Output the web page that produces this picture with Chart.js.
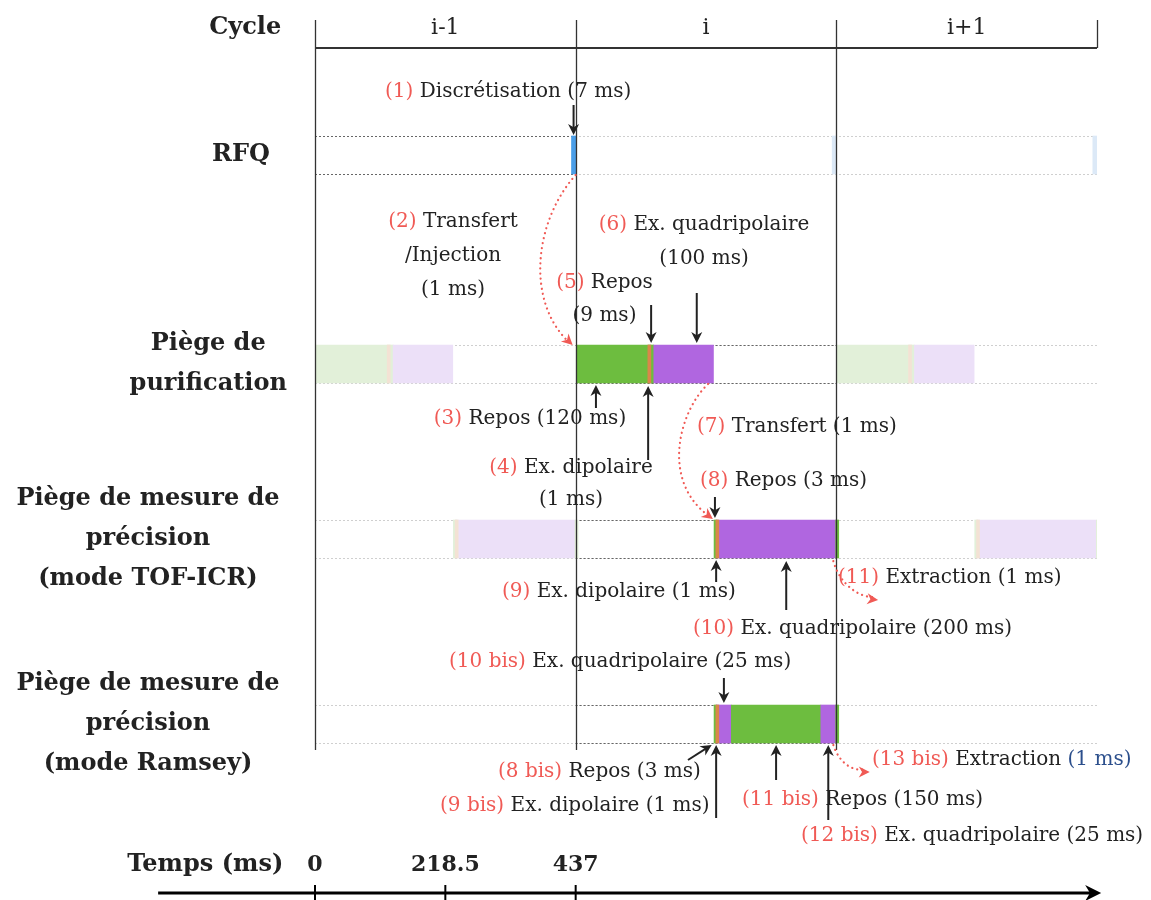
<!DOCTYPE html>
<html>
<head>
<meta charset="utf-8">
<script src="https://cdn.jsdelivr.net/npm/chart.js@4"></script>
<style>
body { margin: 0; background: #fff; }
</style>
</head>
<body>
<canvas id="myChart" width="1151" height="900"></canvas>
<script>
// cycles and time axis
var cycleNames = ["i-1", "i", "i+1"];
var cycleLength = 437;
var timeTicks = [0, 218.5, 437];
var timeTickLabels = ["0", "218.5", "437"];

var laneNames = [
    ["RFQ"],
    ["Piège de", "purification"],
    ["Piège de mesure de", "précision", "(mode TOF-ICR)"],
    ["Piège de mesure de", "précision", "(mode Ramsey)"]
];

// phases of each trap: start in the cycle (ms), kind, duration (ms), which cycles are drawn
var rfqStart = 430;
var rfqPhases = ["disc"];
var rfqDurations = [7];
var rfqCycles = ["solid", "faded", "faded"];

var purifStart = 1;
var purifPhases = ["repos", "dipole", "repos", "quad"];
var purifDurations = [120, 1, 9, 100];
var purifCycles = ["faded", "solid", "faded"];

var tofStart = 232;
var tofPhases = ["repos", "dipole", "quad", "extract"];
var tofDurations = [3, 1, 200, 1];
var tofCycles = ["faded", "solid", "faded"];

var ramseyStart = 232;
var ramseyPhases = ["repos", "dipole", "quad", "repos", "quad", "extract"];
var ramseyDurations = [3, 1, 25, 150, 25, 1];
var ramseyCycles = ["none", "solid", "none"];

// styles / layout
var colors = { disc: "#4a9ee8", repos: "#6dbd3f", dipole: "#d9874a", quad: "#b066e0", extract: "#6dbd3f" };
var fadedColors = { disc: "#dce9f7", repos: "#e2f0d9", dipole: "#f3e2d4", quad: "#ece0f8", extract: "#e2f0d9" };
var laneY = [1.07, 3.16, 4.91, 6.76];
var laneLabelT = [-124, -179, -280, -280];
var RED = "#f05a55", BLK = "#222", BLU = "#2c4f8c";
var FONT = "'DejaVu Serif', serif";

var bars = [], barColors = [], thinBars = [], thinColors = [];

function addLane(lane, start, phases, durations, cycles) {
    cycles.forEach(function(mode, c) {
        if (mode == "none") return;
        var t = c * cycleLength + start;
        phases.forEach(function(p, k) {
            var col = mode == "solid" ? colors[p] : fadedColors[p];
            var pt = { x: [t, t + durations[k]], y: laneY[lane] };
            // thin phases go on top
            if (durations[k] <= 1) { thinBars.push(pt); thinColors.push(col); } else { bars.push(pt); barColors.push(col); }
            t += durations[k];
        });
    });
}
addLane(0, rfqStart, rfqPhases, rfqDurations, rfqCycles);
addLane(1, purifStart, purifPhases, purifDurations, purifCycles);
addLane(2, tofStart, tofPhases, tofDurations, tofCycles);
addLane(3, ramseyStart, ramseyPhases, ramseyDurations, ramseyCycles);
bars = bars.concat(thinBars);
barColors = barColors.concat(thinColors);

var laneCycles = [rfqCycles, purifCycles, tofCycles, ramseyCycles];

// annotations: [t (ms), y, align, parts]
var notes = [
    [117.4, 0.44, "left", [["(1)", RED], [" Discrétisation (7 ms)", BLK]]],
    [231.4, 1.74, "center", [["(2)", RED], [" Transfert", BLK]]],
    [231.4, 2.08, "center", [["/Injection", BLK]]],
    [231.4, 2.42, "center", [["(1 ms)", BLK]]],
    [652.2, 1.77, "center", [["(6)", RED], [" Ex. quadripolaire", BLK]]],
    [652.2, 2.11, "center", [["(100 ms)", BLK]]],
    [485.3, 2.35, "center", [["(5)", RED], [" Repos", BLK]]],
    [485.3, 2.68, "center", [["(9 ms)", BLK]]],
    [360.4, 3.71, "center", [["(3)", RED], [" Repos (120 ms)", BLK]]],
    [429.2, 4.20, "center", [["(4)", RED], [" Ex. dipolaire", BLK]]],
    [429.2, 4.52, "center", [["(1 ms)", BLK]]],
    [640.4, 3.79, "left", [["(7)", RED], [" Transfert (1 ms)", BLK]]],
    [645.5, 4.33, "left", [["(8)", RED], [" Repos (3 ms)", BLK]]],
    [313.5, 5.44, "left", [["(9)", RED], [" Ex. dipolaire (1 ms)", BLK]]],
    [633.7, 5.81, "left", [["(10)", RED], [" Ex. quadripolaire (200 ms)", BLK]]],
    [876.8, 5.30, "left", [["(11)", RED], [" Extraction (1 ms)", BLK]]],
    [224.7, 6.14, "left", [["(10 bis)", RED], [" Ex. quadripolaire (25 ms)", BLK]]],
    [306.8, 7.24, "left", [["(8 bis)", RED], [" Repos (3 ms)", BLK]]],
    [209.6, 7.58, "left", [["(9 bis)", RED], [" Ex. dipolaire (1 ms)", BLK]]],
    [715.9, 7.52, "left", [["(11 bis)", RED], [" Repos (150 ms)", BLK]]],
    [814.8, 7.88, "left", [["(12 bis)", RED], [" Ex. quadripolaire (25 ms)", BLK]]],
    [933.8, 7.12, "left", [["(13 bis)", RED], [" Extraction ", BLK], ["(1 ms)", BLU]]]
];

// black arrows [t0, y0, t1, y1]
var arrows = [
    [433.5, 0.57, 433.5, 0.87],
    [640, 2.45, 640, 2.95],
    [563.5, 2.57, 563.5, 2.95],
    [471, 3.60, 471, 3.37],
    [558.5, 4.12, 558.5, 3.38],
    [670.5, 4.49, 670.5, 4.70],
    [672.5, 5.34, 672.5, 5.12],
    [790, 5.62, 790, 5.13],
    [685.5, 6.30, 685.5, 6.55],
    [625.3, 7.12, 665, 6.97],
    [672.5, 7.70, 672.5, 6.97],
    [773, 7.32, 773, 6.97],
    [860.5, 7.72, 860.5, 6.97]
];

// red dotted transfers (bezier)
var curves = [
    [[437, 1.27], [369, 1.72], [352, 2.52], [432, 2.97]],
    [[659, 3.36], [612, 3.62], [578, 4.32], [667, 4.71]],
    [[869, 5.13], [880, 5.37], [914, 5.50], [944, 5.52]],
    [[869, 6.97], [880, 7.17], [905, 7.24], [930, 7.24]]
];

function head(c, x, y, ang, size, color) {
    c.save();
    c.translate(x, y);
    c.rotate(ang);
    c.beginPath();
    c.moveTo(0, 0);
    c.lineTo(-size, -size * 0.5);
    c.lineTo(-size * 0.7, 0);
    c.lineTo(-size, size * 0.5);
    c.closePath();
    c.fillStyle = color;
    c.fill();
    c.restore();
}

function drawParts(c, x, y, parts, align) {
    var w = 0;
    parts.forEach(function(p) { w += c.measureText(p[0]).width; });
    var left = align == "center" ? x - w / 2 : (align == "right" ? x - w : x);
    parts.forEach(function(p) {
        c.fillStyle = p[1];
        c.textAlign = "left";
        c.fillText(p[0], left, y);
        left += c.measureText(p[0]).width;
    });
}

function dotted(c, x0, x1, y, color) {
    c.strokeStyle = color;
    c.lineWidth = 1;
    c.setLineDash([2, 2]);
    c.beginPath();
    c.moveTo(x0, y + 0.5);
    c.lineTo(x1, y + 0.5);
    c.stroke();
    c.setLineDash([]);
}

var bandsPlugin = {
    id: "bands",
    beforeDatasetsDraw: function(chart) {
        var c = chart.ctx, xs = chart.scales.x, ys = chart.scales.y;
        c.save();
        laneY.forEach(function(v, i) {
            [v - 0.19, v + 0.19].forEach(function(e) {
                var y = Math.round(ys.getPixelForValue(e));
                dotted(c, xs.getPixelForValue(0), xs.getPixelForValue(3 * cycleLength), y, "#cfcfcf");
                laneCycles[i].forEach(function(m, k) {
                    if (m == "solid") dotted(c, xs.getPixelForValue(k * cycleLength), xs.getPixelForValue((k + 1) * cycleLength), y, "#666");
                });
            });
        });
        c.restore();
    }
};

var notesPlugin = {
    id: "notes",
    afterDatasetsDraw: function(chart) {
        var c = chart.ctx, xs = chart.scales.x, ys = chart.scales.y;
        var X = function(t) { return xs.getPixelForValue(t); };
        var Y = function(v) { return ys.getPixelForValue(v); };
        c.save();

        // cycle header and boundaries
        c.strokeStyle = "#333";
        c.lineWidth = 2;
        c.beginPath();
        c.moveTo(X(0), Y(0));
        c.lineTo(X(3 * cycleLength), Y(0));
        c.stroke();
        c.lineWidth = 1.3;
        for (var k = 0; k <= 3; k++) {
            c.beginPath();
            c.moveTo(Math.round(X(k * cycleLength)) + 0.5, Y(-0.28));
            c.lineTo(Math.round(X(k * cycleLength)) + 0.5, Y(k < 3 ? 7.02 : 0));
            c.stroke();
        }
        c.textBaseline = "middle";
        c.font = "22px " + FONT;
        c.fillStyle = BLK;
        c.textAlign = "center";
        cycleNames.forEach(function(n, k) { c.fillText(n, X((k + 0.5) * cycleLength), Y(-0.2)); });

        // lane names
        c.font = "bold 24px " + FONT;
        c.fillText("Cycle", X(-117), Y(-0.2));
        laneNames.forEach(function(lines, i) {
            lines.forEach(function(s, j) {
                c.fillText(s, X(laneLabelT[i]), Y(laneY[i] + (j - (lines.length - 1) / 2) * 0.4));
            });
        });

        // time axis
        c.fillText("Temps (ms)", X(-184), Y(8.17));
        c.font = "bold 22px " + FONT;
        timeTicks.forEach(function(t, k) { c.fillText(timeTickLabels[k], X(t), Y(8.17)); });
        c.strokeStyle = "#000";
        c.lineWidth = 3;
        c.beginPath();
        c.moveTo(X(-263), Y(8.45));
        c.lineTo(X(1310), Y(8.45));
        c.stroke();
        head(c, X(1318), Y(8.45), 0, 16, "#000");
        c.lineWidth = 2;
        timeTicks.forEach(function(t) {
            c.beginPath();
            c.moveTo(X(t), Y(8.37));
            c.lineTo(X(t), Y(8.53));
            c.stroke();
        });

        // annotations
        c.font = "20px " + FONT;
        notes.forEach(function(n) { drawParts(c, X(n[0]), Y(n[1]), n[3], n[2]); });

        c.strokeStyle = BLK;
        c.lineWidth = 2;
        arrows.forEach(function(a) {
            var x0 = X(a[0]), y0 = Y(a[1]), x1 = X(a[2]), y1 = Y(a[3]);
            var ang = Math.atan2(y1 - y0, x1 - x0);
            c.beginPath();
            c.moveTo(x0, y0);
            c.lineTo(x1 - 6 * Math.cos(ang), y1 - 6 * Math.sin(ang));
            c.stroke();
            head(c, x1, y1, ang, 11, BLK);
        });

        c.strokeStyle = RED;
        c.lineWidth = 2.2;
        c.lineCap = "round";
        curves.forEach(function(p) {
            c.setLineDash([0.1, 5]);
            c.beginPath();
            c.moveTo(X(p[0][0]), Y(p[0][1]));
            c.bezierCurveTo(X(p[1][0]), Y(p[1][1]), X(p[2][0]), Y(p[2][1]), X(p[3][0]) - 4, Y(p[3][1]) - 3);
            c.stroke();
            c.setLineDash([]);
            var ang = Math.atan2(Y(p[3][1]) - Y(p[2][1]), X(p[3][0]) - X(p[2][0]));
            head(c, X(p[3][0]), Y(p[3][1]), ang, 11, RED);
        });
        c.restore();
    }
};

var ctx = document.getElementById("myChart").getContext("2d");
var myChart = new Chart(ctx, {
    type: "bar",
    data: {
        datasets: [{
            data: bars,
            backgroundColor: barColors,
            borderWidth: 0,
            barThickness: 38,
            minBarLength: 3
        }]
    },
    options: {
        responsive: false,
        animation: false,
        indexAxis: "y",
        layout: { padding: { left: 315, right: 54, top: 48, bottom: 5 } },
        plugins: { legend: { display: false }, tooltip: { enabled: false } },
        scales: {
            x: { type: "linear", min: 0, max: 3 * cycleLength, display: false },
            y: { type: "linear", min: 0, max: 8.47, reverse: true, offset: false, display: false }
        }
    },
    plugins: [bandsPlugin, notesPlugin]
});
</script>
</body>
</html>
